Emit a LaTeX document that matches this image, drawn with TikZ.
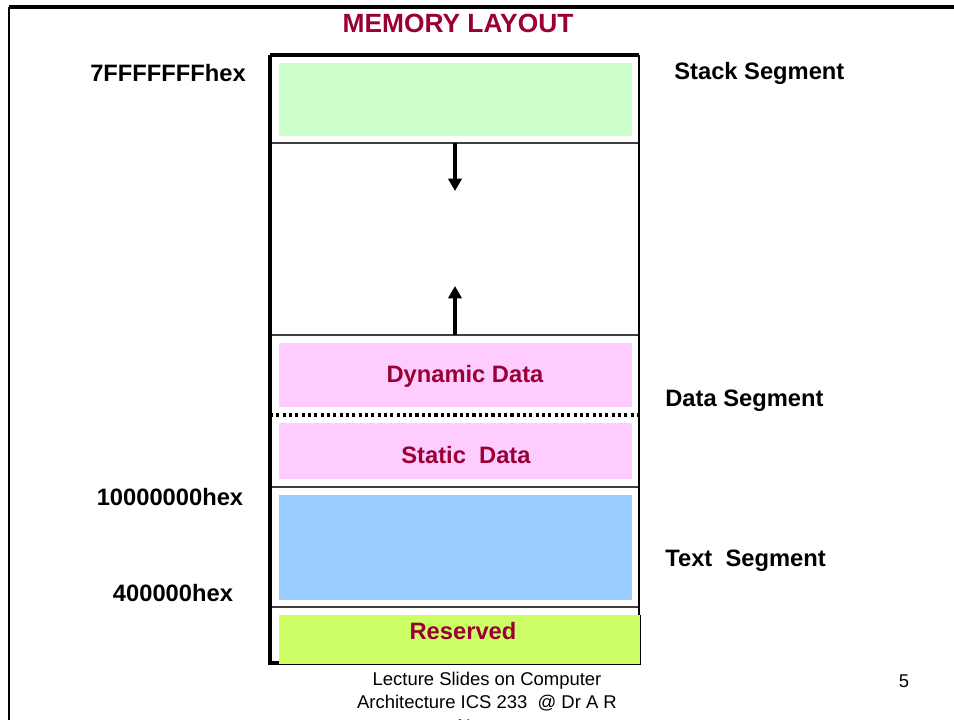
\documentclass[tikz,border=0pt]{standalone}
\usepackage{fontspec}
\setmainfont{Liberation Sans}
\usetikzlibrary{arrows.meta,calc,positioning}
\definecolor{titlered}{HTML}{990033}
\definecolor{stackgreen}{HTML}{CCFFCC}
\definecolor{datapink}{HTML}{FFCCFF}
\definecolor{textblue}{HTML}{99CCFF}
\definecolor{resvgreen}{HTML}{CCFF66}
\tikzset{
	seg/.style={inner sep=0pt, minimum width=7.06cm},
	side/.style={font=\fontsize{13.5}{16}\selectfont\bfseries},
	inner/.style={font=\fontsize{13.5}{16}\selectfont\bfseries, text=titlered},
	foot/.style={font=\fontsize{10.5}{12}\selectfont, inner sep=0pt},
	divider/.style={draw=black!75, line width=0.7pt},
	growth/.style={-{Triangle[length=7pt,width=7.5pt]}, line width=2pt}
}

\begin{document}
\begin{tikzpicture}[x=0.02cm,y=-0.02cm]
\useasboundingbox (0,0) rectangle (954,720);
\clip (0,0) rectangle (954,720);
% slide frame
\draw[line width=2pt] (9,7) -- (960,7);
\draw[line width=1.4pt] (9,7) -- (9,730);
\node[font=\fontsize{15}{18}\selectfont\bfseries, text=titlered] (title) at (458,23) {MEMORY LAYOUT};

% segments
\node[seg, fill=stackgreen, minimum height=1.46cm] (stack) at (455.5,99.5) {};
\node[seg, fill=datapink, minimum height=1.3cm] (dyn) at (455.5,375) {};
\node[seg, fill=datapink, minimum height=1.13cm] (stat) at (455.5,451) {};
\node[seg, fill=textblue, minimum height=2.1cm] (text) at (455.5,547.5) {};
\node[seg, fill=resvgreen, minimum width=7.22cm, minimum height=0.98cm] (resv) at (459.5,639.5) {};
\draw[line width=0.9pt] (resv.north east) -- (resv.south east) -- (resv.south west);

\node[inner] (dynlbl) at (465,376) {Dynamic Data};
\node[inner] (statlbl) at (466,455) {Static\ \ Data};
\node[inner] (resvlbl) at (463,631) {Reserved};

% dividers
\foreach \y in {143,335,487,607}
	\draw[divider] (270,\y) -- (639,\y);
\draw[line width=2pt, dash pattern=on 1.8pt off 1.8pt] (270,415) -- (637,415);

% memory box
\draw[line width=2.3pt] (270,55) -- (270,663) -- (279,663);
\draw[line width=2.3pt] (270,55) -- (639,55);
\draw[line width=1.4pt] (639,55) -- (639,615);

% growth arrows
\coordinate (stacktop) at (455,143);
\coordinate (stackend) at (455,191);
\coordinate (heapbase) at (455,335);
\coordinate (heapend) at (455,286);
\draw[growth] (stacktop) -- (stackend);
\draw[growth] (heapbase) -- (heapend);

% addresses
\node[side] (a7f) at (168,73) {7FFFFFFFhex};
\node[side] (a100) at (170,497) {10000000hex};
\node[side] (a400) at (173,593) {400000hex};

% segment names
\node[side, anchor=west, inner sep=0pt] (stackname) at (674,73) {Stack Segment};
\node[side, anchor=west, inner sep=0pt] (dataname) at (665,401) {Data Segment};
\node[side, anchor=west, inner sep=0pt] (textname) at (665,561) {Text\ \ Segment};

% footer
\node[foot] (foot1) at (487,681) {Lecture Slides on Computer};
\node[foot] (foot2) at (487,703) {Architecture ICS 233\ \ @ Dr A R};
\node[foot] (foot3) at (487,726) {Naseer};
\node[foot] (pageno) at (904,681) {5};
\end{tikzpicture}
\end{document}
